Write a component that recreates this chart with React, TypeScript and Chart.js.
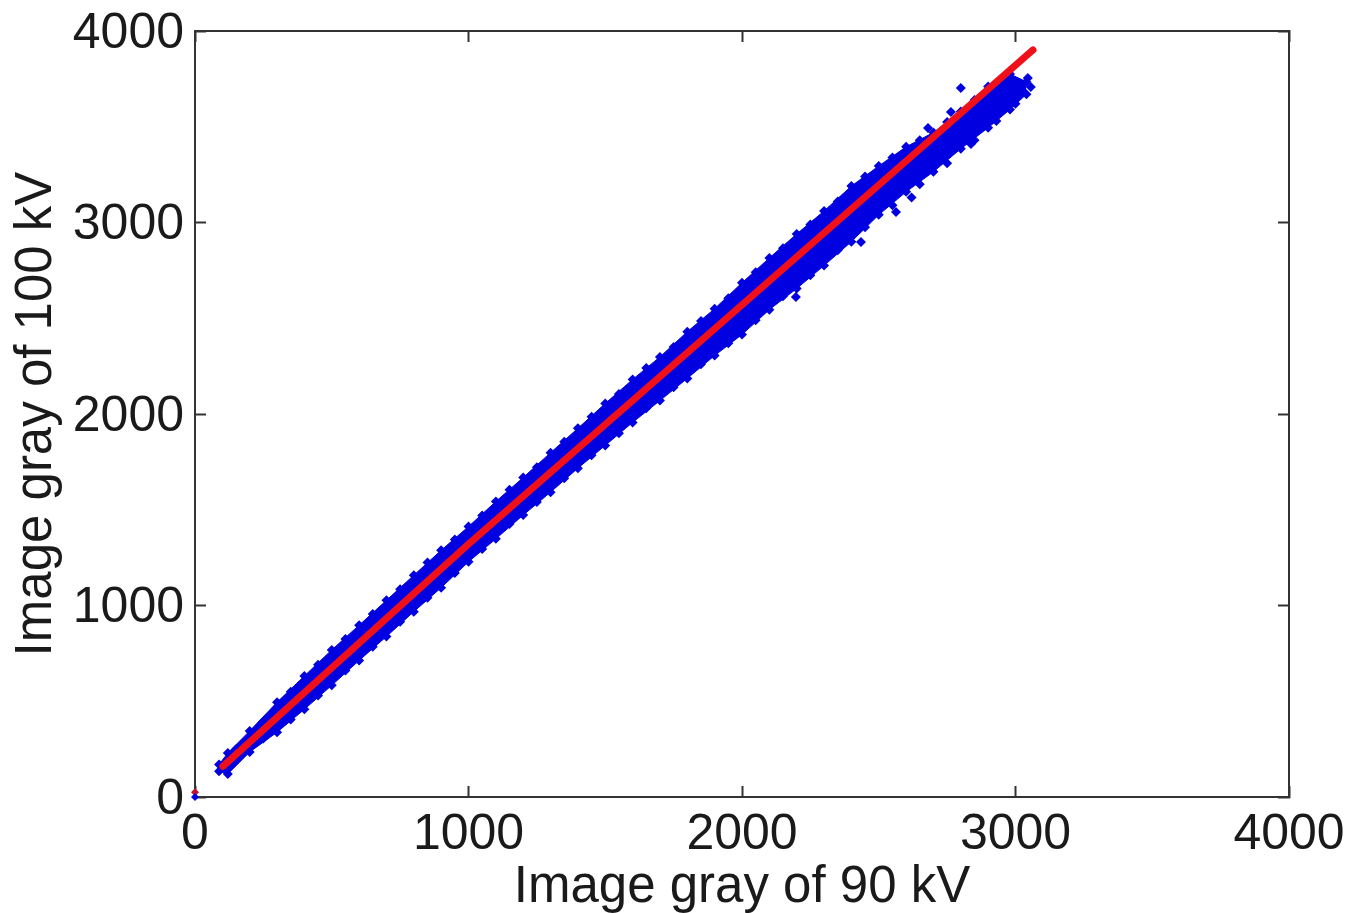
import React, { useEffect, useRef } from "react";
import { Chart, registerables } from "chart.js";

Chart.register(...registerables);

const xAxisTitle = "Image gray of 90 kV";
const yAxisTitle = "Image gray of 100 kV";
const axisTicks = [0, 1000, 2000, 3000, 4000];

const stationX = [88, 120, 200, 300, 400, 500, 600, 700, 800, 900, 1000, 1100, 1200, 1300, 1400, 1500, 1600, 1700, 1800, 1900, 2000, 2100, 2200, 2300, 2400, 2500, 2600, 2700, 2800, 2900, 2980, 3040];
const upperY = [170, 230, 345, 495, 632, 768, 897, 1027, 1158, 1288, 1412, 1543, 1668, 1798, 1925, 2055, 2180, 2298, 2430, 2550, 2685, 2815, 2940, 3060, 3190, 3295, 3395, 3470, 3580, 3710, 3775, 3735];
const lowerY = [135, 120, 235, 338, 458, 583, 713, 838, 968, 1093, 1228, 1348, 1472, 1592, 1717, 1836, 1956, 2070, 2186, 2305, 2415, 2545, 2655, 2775, 2900, 3040, 3160, 3265, 3385, 3495, 3590, 3670];

const edgeX = [150, 250, 350, 450, 550, 650, 750, 850, 950, 1050, 1150, 1250, 1350, 1450, 1550, 1650, 1750, 1850, 1950, 2050, 2150, 2250, 2350, 2450, 2550, 2650, 2750, 2850, 2930, 150, 250, 350, 450, 550, 650, 750, 850, 950, 1050, 1150, 1250, 1350, 1450, 1550, 1650, 1750, 1850, 1950, 2050, 2150, 2250, 2350, 2450, 2550, 2650, 2750, 2850, 2930];
const edgeY = [249, 395, 550, 690, 825, 955, 1085, 1225, 1345, 1470, 1605, 1722, 1855, 1985, 2105, 2240, 2350, 2485, 2605, 2740, 2865, 2990, 3110, 3240, 3340, 3430, 3525, 3640, 3725, 191, 305, 405, 530, 660, 785, 915, 1040, 1170, 1295, 1425, 1540, 1665, 1785, 1900, 2030, 2140, 2260, 2370, 2490, 2615, 2725, 2855, 2975, 3090, 3200, 3310, 3430, 3530];

const outlierX = [3056, 3045, 3020, 2994, 3010, 2960, 2800, 2764, 2680, 2837, 2435, 2563, 2197, 2620, 3000, 2975];
const outlierY = [3707, 3754, 3690, 3733, 3660, 3680, 3702, 3577, 3493, 3410, 2898, 3055, 2611, 3130, 3620, 3610];

const originX = [0];
const originY = [0];
const originRedX = [0];
const originRedY = [25];

const fitX = [102, 1000, 2000, 3064];
const fitY = [160, 1320, 2570, 3901];

const toPoints = (xs: number[], ys: number[]) => xs.map((x, i) => ({ x, y: ys[i] }));

const BLUE = "#0000e0";
const RED = "#f0101a";
const AXIS = "#333333";
const TEXT = "#1a1a1a";
const FONT = "'Liberation Sans', Arial, sans-serif";
const TICK_FONT_SIZE = 50;
const TITLE_FONT_SIZE = 51;

function noPadding(s: any) {
  s.paddingLeft = 0;
  s.paddingRight = 0;
  s.paddingTop = 0;
  s.paddingBottom = 0;
}

export default function App() {
  const ref = useRef<HTMLCanvasElement>(null);

  useEffect(() => {
    const canvas = ref.current;
    if (!canvas) return;
    const edgeStyle = {
      showLine: true,
      borderColor: BLUE,
      borderWidth: 1,
      pointStyle: "rectRot" as const,
      pointRadius: 5,
      pointBackgroundColor: BLUE,
      pointBorderWidth: 0,
      tension: 0,
    };
    const scatterStyle = {
      showLine: false,
      pointStyle: "rectRot" as const,
      pointRadius: 5,
      pointBackgroundColor: BLUE,
      pointBorderWidth: 0,
    };
    const plainTicks = { display: false };
    const gridStyle = {
      drawOnChartArea: false,
      drawTicks: true,
      tickLength: -11,
      tickColor: AXIS,
      tickWidth: 2,
    };
    const tickOptions = {
      autoSkip: false,
      maxRotation: 0,
      minRotation: 0,
      color: TEXT,
      font: { family: FONT, size: TICK_FONT_SIZE },
      callback: (v: number) => String(v),
    };
    const chart = new Chart(canvas, {
      type: "scatter",
      data: {
        datasets: [
          { label: "upper", data: toPoints(stationX, upperY), ...edgeStyle, fill: "+1", backgroundColor: BLUE, order: 5 },
          { label: "lower", data: toPoints(stationX, lowerY), ...edgeStyle, order: 5 },
          { label: "edge", data: toPoints(edgeX, edgeY), ...scatterStyle, order: 4 },
          { label: "outliers", data: toPoints(outlierX, outlierY), ...scatterStyle, order: 4 },
          { label: "origin", data: toPoints(originX, originY), ...scatterStyle, pointRadius: 4, clip: false, order: 3 },
          { label: "originFit", data: toPoints(originRedX, originRedY), ...scatterStyle, pointRadius: 4, pointBackgroundColor: "#c01030", clip: false, order: 3 },
          {
            label: "fit",
            data: toPoints(fitX, fitY),
            showLine: true,
            borderColor: RED,
            borderWidth: 7,
            borderCapStyle: "round",
            pointRadius: 0,
            tension: 0,
            order: 1,
          },
        ],
      },
      options: {
        animation: false,
        responsive: false,
        layout: { padding: { top: 31, right: 63, left: 0, bottom: 0 } },
        plugins: { legend: { display: false }, tooltip: { enabled: false } },
        scales: {
          x: {
            type: "linear",
            position: "bottom",
            min: 0,
            max: 4000,
            afterBuildTicks: (s: any) => { s.ticks = axisTicks.map((value) => ({ value })); },
            afterFit: (s: any) => { s.height = 116; noPadding(s); },
            grid: gridStyle,
            border: { color: AXIS, width: 2 },
            ticks: { ...tickOptions, padding: 19 },
            title: { display: true, text: xAxisTitle, color: TEXT, font: { family: FONT, size: TITLE_FONT_SIZE }, padding: { top: 0, bottom: -6 } },
          },
          y: {
            type: "linear",
            position: "left",
            min: 0,
            max: 4000,
            afterBuildTicks: (s: any) => { s.ticks = axisTicks.map((value) => ({ value })); },
            afterFit: (s: any) => { s.width = 195; noPadding(s); },
            grid: gridStyle,
            border: { color: AXIS, width: 2 },
            ticks: { ...tickOptions, padding: 22, labelOffset: 3 },
            title: { display: true, text: yAxisTitle, color: TEXT, font: { family: FONT, size: TITLE_FONT_SIZE }, padding: { top: 6, bottom: 0 } },
          },
          x2: {
            type: "linear",
            position: "top",
            min: 0,
            max: 4000,
            afterBuildTicks: (s: any) => { s.ticks = axisTicks.map((value) => ({ value })); },
            afterFit: (s: any) => { s.height = 0; noPadding(s); },
            grid: gridStyle,
            border: { color: AXIS, width: 2 },
            ticks: plainTicks,
          },
          y2: {
            type: "linear",
            position: "right",
            min: 0,
            max: 4000,
            afterBuildTicks: (s: any) => { s.ticks = axisTicks.map((value) => ({ value })); },
            afterFit: (s: any) => { s.width = 0; noPadding(s); },
            grid: gridStyle,
            border: { color: AXIS, width: 2 },
            ticks: plainTicks,
          },
        },
      },
    } as any);
    return () => chart.destroy();
  }, []);

  return (
    <div style={{ position: "fixed", left: 0, top: 0, width: 1352, height: 913, background: "#fff" }}>
      <canvas ref={ref} width={1352} height={913} style={{ display: "block", width: 1352, height: 913, filter: "blur(0.5px)" }} />
    </div>
  );
}
